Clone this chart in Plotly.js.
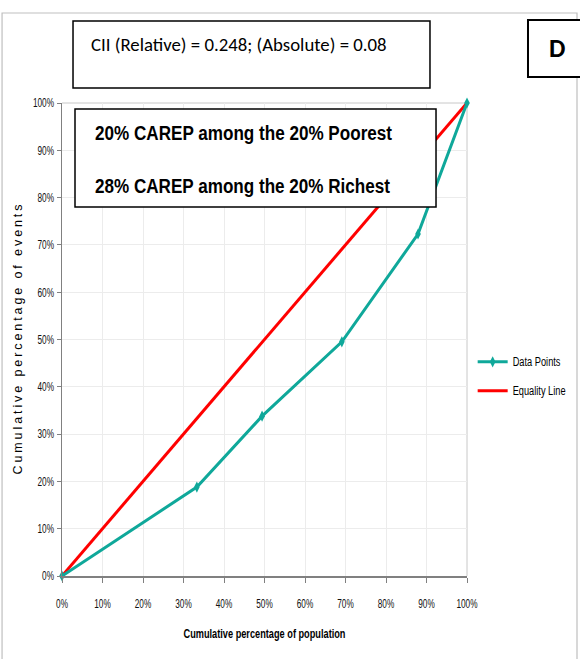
<!DOCTYPE html>
<html><head><meta charset="utf-8">
<script src="https://cdn.plot.ly/plotly-3.0.1.min.js"></script>
<style>html,body{margin:0;padding:0;background:#fff;}#chart{width:580px;height:659px;}</style>
</head><body><div id="chart"></div>
<script>
const popPct = [0, 33.3, 49.4, 69.1, 87.9, 100];
const eventPct = [0, 18.8, 33.8, 49.5, 72.3, 100];
const equalityX = [0, 100];
const equalityY = [0, 100];
const tickVals = [0,10,20,30,40,50,60,70,80,90,100];
const tickText = ['0%','10%','20%','30%','40%','50%','60%','70%','80%','90%','100%'];
const seriesNames = ['Data Points','Equality Line'];
const ciiText = 'CII (Relative) = 0.248; (Absolute) = 0.08';
const panelLabel = 'D';
const noteLines = ['20% CAREP among the 20% Poorest','28% CAREP among the 20% Richest'];

const sans = '"Liberation Sans", Arial, sans-serif';
const calibri = 'Carlito, Calibri, "Open Sans", sans-serif';
const nf = (size, color, weight) => ({family: sans, size: size, color: color || '#000', weight: weight || 'normal'});

const traces = [
  {x: equalityX, y: equalityY, name: seriesNames[1], legendgroup: 'b', legendrank: 2, mode: 'lines', type: 'scatter',
   line: {color: '#ff0000', width: 3}, cliponaxis: false},
  {x: popPct, y: eventPct, name: seriesNames[0], legendgroup: 'a', legendrank: 1, mode: 'lines+markers', type: 'scatter',
   line: {color: '#0fa89a', width: 3}, marker: {symbol: 'diamond-tall', size: 8, color: '#0fa89a'}, cliponaxis: false}
];

const layout = {
  width: 580, height: 659,
  margin: {l: 62, r: 113, t: 103, b: 83, autoexpand: false},
  paper_bgcolor: '#fff', plot_bgcolor: '#fff',
  showlegend: true,
  legend: {x: 1.014, y: 0.4835, xanchor: 'left', yanchor: 'top', font: nf(12), tracegroupgap: 10, traceorder: 'grouped', bgcolor: 'rgba(0,0,0,0)'},
  xaxis: {range: [0, 100], tickvals: tickVals, ticktext: tickText, showgrid: true, gridcolor: '#ececec', gridwidth: 1,
    showline: true, linecolor: '#808080', linewidth: 2, ticks: 'outside', ticklen: 5, tickcolor: '#808080',
    ticklabelstandoff: 10, tickfont: nf(12.5, '#111'), zeroline: false, fixedrange: true,
    title: {text: 'Cumulative percentage of population', font: nf(12.5, '#000', 'bold'), standoff: 19}},
  yaxis: {range: [0, 100], tickvals: tickVals, ticktext: tickText, showgrid: true, gridcolor: '#ececec', gridwidth: 1,
    showline: true, linecolor: '#808080', linewidth: 1.5, ticks: 'outside', ticklen: 4, tickcolor: '#808080',
    tickfont: nf(12.5, '#111'), zeroline: false, fixedrange: true,
    title: {text: 'Cumulative percentage of events', font: nf(12.5, '#000'), standoff: 6}},
  shapes: [
    {type: 'rect', xref: 'paper', yref: 'paper', x0: -0.148, x1: 1.2716, y0: -0.25, y1: 1.1903, line: {color: '#bfbfbf', width: 1.2}, layer: 'below'},
    {type: 'line', xref: 'paper', yref: 'paper', x0: 1, x1: 1, y0: 0, y1: 1, line: {color: '#c8c8c8', width: 1}, layer: 'below'},
    {type: 'line', xref: 'paper', yref: 'paper', x0: 0, x1: 1, y0: 1, y1: 1, line: {color: '#c8c8c8', width: 1}, layer: 'below'},
    {type: 'rect', xref: 'paper', yref: 'paper', x0: 0.0272, x1: 0.9086, y0: 1.0317, y1: 1.1734, line: {color: '#000', width: 1.5}, fillcolor: '#fff'},
    {type: 'rect', xref: 'paper', yref: 'paper', x0: 1.1506, x1: 1.30, y0: 1.055, y1: 1.1755, line: {color: '#000', width: 2}, fillcolor: '#fff'},
    {type: 'rect', xref: 'paper', yref: 'paper', x0: 0.0321, x1: 0.9235, y0: 0.7801, y1: 0.9873, line: {color: '#000', width: 1.5}, fillcolor: '#fff', layer: 'above'}
  ],
  annotations: [
    {xref: 'paper', yref: 'paper', x: 0.0667, y: 1.1247, xanchor: 'left', yanchor: 'middle', align: 'left', showarrow: false, text: ciiText, font: {family: calibri, size: 18.8, color: '#000'}},
    {xref: 'paper', yref: 'paper', x: 1.2222, y: 1.1163, xanchor: 'center', yanchor: 'middle', showarrow: false, text: '<b>' + panelLabel + '</b>', font: {family: calibri, size: 26, color: '#000'}},
    {xref: 'paper', yref: 'paper', x: 0.0765, y: 0.9366, xanchor: 'left', yanchor: 'middle', align: 'left', showarrow: false, text: '<b>' + noteLines[0] + '</b>', font: nf(19.5)},
    {xref: 'paper', yref: 'paper', x: 0.0765, y: 0.8245, xanchor: 'left', yanchor: 'middle', align: 'left', showarrow: false, text: '<b>' + noteLines[1] + '</b>', font: nf(19.5)}
  ]
};

function squeeze(el, factor, target, adjust) {
  if (!el) return;
  const len = el.getComputedTextLength();
  const t = target || len * factor;
  el.setAttribute('textLength', t.toFixed(1));
  el.setAttribute('lengthAdjust', adjust || 'spacingAndGlyphs');
}

Plotly.newPlot('chart', traces, layout, {displayModeBar: false, staticPlot: true}).then(function(gd){
  document.querySelectorAll('.xtick text, .ytick text').forEach(e => squeeze(e, 0.66));
  document.querySelectorAll('.legendtext').forEach(e => squeeze(e, 0.77));
  squeeze(document.querySelector('.xtitle'), null, 162);
  const yt = document.querySelector('.ytitle');
  squeeze(yt, null, 270, 'spacing');
  if (yt) yt.setAttribute('transform', 'translate(10,0) ' + (yt.getAttribute('transform') || ''));
  const ann = document.querySelectorAll('.annotation-text');
  if (ann.length >= 4) { squeeze(ann[2], null, 297); squeeze(ann[3], null, 295); }
});
</script>
</body></html>
